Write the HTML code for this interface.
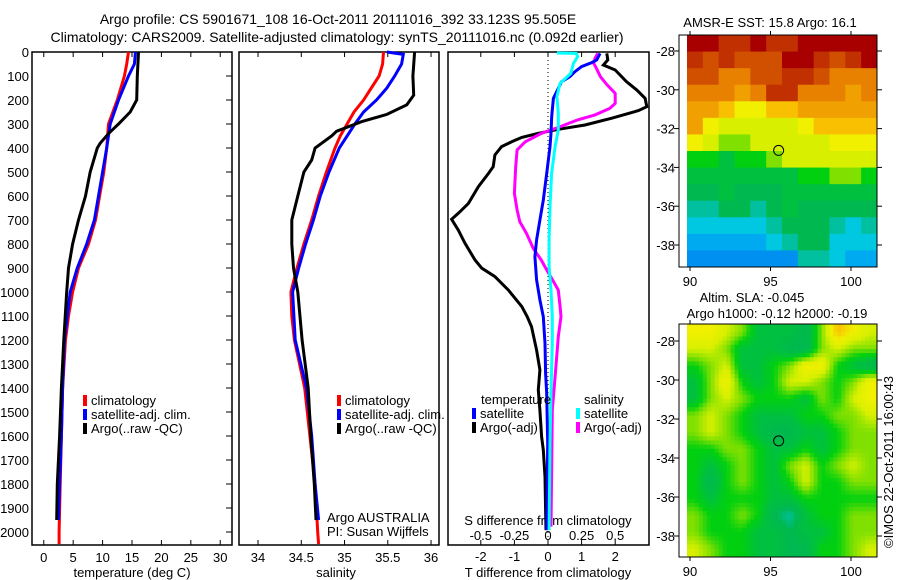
<!DOCTYPE html>
<html><head><meta charset="utf-8">
<style>
body{margin:0;background:#fff;}
svg{display:block;font-family:"Liberation Sans",sans-serif;}
text{fill:#000;font-size:13px;}
</style></head>
<body>
<svg id="chart" width="900" height="580" viewBox="0 0 900 580" xmlns="http://www.w3.org/2000/svg">
<rect width="900" height="580" fill="#fff"/>
<text x="338" y="24" text-anchor="middle" style="font-size:14px">Argo profile: CS 5901671_108 16-Oct-2011 20111016_392 33.123S 95.505E</text>
<text x="337" y="42" text-anchor="middle" style="font-size:14px">Climatology: CARS2009. Satellite-adjusted climatology: synTS_20111016.nc (0.092d earlier)</text>
<g id="g"></g>
</svg>
<script>
// ---- temperature profiles: [depth, value]
const tempClim=[[0,14.4],[50,14.1],[100,13.7],[200,12.5],[300,11],[400,10.7],[500,10.2],[600,9.5],[700,8.8],[800,7.6],[900,5.9],[1000,4.9],[1100,4.2],[1200,3.7],[1400,3.2],[1600,3.0],[1800,2.8],[2000,2.6],[2050,2.6]];
const tempSat=[[0,15.6],[50,15.4],[100,14.4],[200,12.7],[300,11.3],[400,10.7],[500,10.0],[600,9.3],[700,8.6],[800,7.3],[900,5.7],[1000,4.5],[1200,3.5],[1400,3.2],[1600,3.0],[1800,2.7],[1950,2.5]];
const tempArgo=[[0,16.1],[100,15.9],[200,15.8],[250,14.7],[300,12.7],[340,11],[380,9.6],[400,9.1],[500,7.9],[600,7.1],[700,5.9],[800,4.9],[900,4.2],[1000,3.9],[1200,3.4],[1400,3.0],[1600,2.7],[1800,2.3],[1950,2.2]];
// ---- salinity profiles
const salClim=[[0,35.45],[50,35.44],[100,35.40],[150,35.31],[200,35.22],[250,35.11],[300,35.03],[350,34.95],[400,34.89],[500,34.79],[600,34.70],[700,34.62],[800,34.53],[900,34.45],[1000,34.38],[1100,34.39],[1200,34.42],[1400,34.54],[1600,34.60],[1800,34.66],[2000,34.69],[2050,34.70]];
const salSat=[[0,35.49],[10,35.68],[50,35.66],[100,35.58],[150,35.49],[200,35.37],[250,35.22],[300,35.12],[350,35.03],[400,34.94],[500,34.82],[600,34.72],[700,34.64],[800,34.55],[900,34.47],[1000,34.40],[1200,34.43],[1400,34.56],[1600,34.62],[1800,34.66],[1950,34.70]];
const salArgo=[[0,35.81],[100,35.79],[180,35.80],[220,35.72],[260,35.49],[290,35.20],[330,34.91],[350,34.85],[400,34.66],[450,34.62],[500,34.53],[600,34.46],[700,34.39],[800,34.39],[900,34.41],[1000,34.46],[1200,34.51],[1400,34.58],[1600,34.61],[1800,34.65],[1950,34.67]];
// ---- differences from climatology
const dTsat=[[6,1.55],[33,1.45],[44,1.30],[61,1.0],[82,0.80],[103,0.65],[124,0.40],[151,0.31],[193,0.16],[269,0.11],[339,0.09],[394,0.06],[506,-0.04],[617,-0.14],[700,-0.24],[783,-0.34],[853,-0.39],[950,-0.34],[1033,-0.24],[1103,-0.14],[1214,-0.09],[1339,-0.07],[1422,-0.04],[1631,-0.01],[1992,-0.04]];
const dTargo=[[6,1.75],[33,1.78],[54,1.65],[75,2.0],[124,2.34],[158,2.64],[193,2.89],[228,2.94],[244,2.69],[276,1.90],[304,1.10],[322,0.31],[339,-0.29],[356,-0.78],[374,-1.08],[394,-1.38],[429,-1.58],[478,-1.63],[506,-1.77],[561,-2.07],[631,-2.37],[672,-2.67],[697,-2.87],[742,-2.67],[797,-2.47],[867,-2.17],[901,-1.97],[936,-1.58],[992,-1.18],[1061,-0.78],[1103,-0.62],[1144,-0.49],[1242,-0.34],[1325,-0.24],[1408,-0.29],[1492,-0.24],[1603,-0.19],[1658,-0.14],[1769,-0.09],[1908,-0.07],[1992,-0.06]];
const dSsat=[[4,0.066],[6,0.21],[19,0.22],[47,0.19],[89,0.17],[110,0.13],[130,0.09],[186,0.066],[255,0.077],[325,0.077],[394,0.053],[506,0.027],[644,0.015],[783,0.008],[894,0.008],[992,0.022],[1103,0.032],[1214,0.032],[1422,0.022],[1631,0.015],[1992,0.008]];
const dSargo=[[6,0.37],[26,0.35],[47,0.34],[68,0.36],[103,0.39],[137,0.44],[172,0.50],[214,0.50],[235,0.46],[262,0.35],[283,0.22],[314,0.077],[339,-0.05],[374,-0.17],[408,-0.23],[478,-0.24],[589,-0.25],[658,-0.23],[707,-0.21],[756,-0.16],[818,-0.11],[867,-0.05],[908,-0.01],[943,0.027],[992,0.077],[1061,0.09],[1103,0.097],[1186,0.077],[1353,0.053],[1492,0.032],[1769,0.027],[1978,0.022]];
// ---- tick labels
const depthTicks=[0,100,200,300,400,500,600,700,800,900,1000,1100,1200,1300,1400,1500,1600,1700,1800,1900,2000];
const tempTicks=[0,5,10,15,20,25,30];
const salTicks=["34","34.5","35","35.5","36"];
const dTTicks=["-2","-1","0","1","2"];
const dSTicks=["-0.5","-0.25","0","0.25","0.5"];
const latTicks=[-28,-30,-32,-34,-36,-38];
const lonTicks=[90,95,100];
// ---- map grids (colour index, rows north->south, cols west->east)
const sstGrid=[
[9.5,9.5,9,9,9.5,9,9,9.5,9.5,9.5,9.5,9.5],
[9,8.5,9,8.5,8.5,8.5,9.5,9.5,9,8.5,9,9.5],
[8.5,8.5,8,8,8.5,8.5,9,9,8.5,8,8,8],
[8,8,8,7.5,8,9,9,8,8,8,7.5,8],
[7.5,7.5,7,6.5,6.5,7,7,7.5,7.5,7.5,7.5,7.5],
[7.5,6.5,6,6,6,6,6,6.5,7,7,7,7],
[6.5,6,5.5,5.5,6,6,6,6,6,6.5,6.5,6.5],
[5,5,4.5,5,5,5.5,6,6,6,6,6,6],
[4.5,4.5,4.5,4.5,4.5,4.5,4.5,5,5,5.5,5.5,5],
[4,4,4.5,4,4,4,4.5,4.5,4.5,4.5,4.5,4.5],
[3.5,3.5,4,4,3.5,4,4.5,4,4,4,4,4],
[3,3,3,3,3,3.5,4,4,4,3.5,3,3.5],
[2.5,2.5,2.5,2.5,2.5,3,3.5,4,4,3,3,3],
[2,2,2,2,2,2,2,3.5,3.5,3,2.5,2.5]];
const slaGrid=[
[6.5,6.5,6,5.5,4.5,4.5,4.5,4,5.5,7,6.5,6],
[6,6,5.5,4.5,4.5,4.5,4,4,5.5,6,5.5,5.5],
[5,5.5,6,4.5,4.5,5,5.5,6.5,6.5,5,4.5,4],
[4.5,5.5,6.5,5,4.5,5,6,6,5.5,5,5.5,6.5],
[4.5,5.5,6,5.5,5,5,5,4.5,5.5,5,6,6.5],
[5.5,6,5.5,5,4.5,4.5,4.5,5,5,5.5,5.5,6],
[5.5,6,5.5,5,4.5,4,4,4.5,4.5,5,5.5,5.5],
[5,5,5.5,5.5,5,4.5,4.5,5,4.5,5,5.5,5.5],
[5,4.5,5,5.5,5,4.5,5.5,6,5,5.5,6,5.5],
[5,4,5,5.5,5,4.5,5,6,5,5,5.5,5.5],
[5,4.5,5,5,5,4.5,4.5,5,5,5,5,5],
[5.5,5,5,5.5,5,4,3.5,4.5,5,5,5.5,5.5],
[5.5,5,5,5,4.5,4.5,4,4.5,4.5,5,5.5,5.5],
[6,5.5,5,5,4.5,4.5,4,4,5,5,5.5,6]];

const NS='http://www.w3.org/2000/svg';
const G=document.getElementById('g');
function mk(tag,attrs,parent){const e=document.createElementNS(NS,tag);for(const k in attrs)e.setAttribute(k,attrs[k]);(parent||G).appendChild(e);return e;}
function txt(x,y,s,anchor,parent){const t=mk('text',{x:x,y:y,'text-anchor':anchor||'start'},parent);t.textContent=s;return t;}
const yD=d=>52+d*0.24;
const PB=545;
function panel(x0,x1,name){
  const r=mk('rect',{x:x0,y:52,width:x1-x0,height:PB-52,fill:'none',stroke:'#000','stroke-width':1.5});
  
  
}
function line(data,sx,color,name){
  const p=mk('polyline',{points:data.map(d=>sx(d[1]).toFixed(1)+','+yD(d[0]).toFixed(1)).join(' '),fill:'none',stroke:color,'stroke-width':3});
  
  
}
// Panel 1
const xT=v=>32+(v+2)*200/34;
panel(32,232,'temperature-panel');
depthTicks.forEach(d=>{
  const t=txt(29,yD(d)+5,String(d),'end');
  
  
  mk('line',{x1:226,x2:232,y1:yD(d),y2:yD(d),stroke:'#000'});
});
tempTicks.forEach(v=>{
  mk('line',{x1:xT(v),x2:xT(v),y1:52,y2:57,stroke:'#000'});
  mk('line',{x1:xT(v),x2:xT(v),y1:PB,y2:PB-5,stroke:'#000'});
  const t=txt(xT(v),562,String(v),'middle');
  
  
});
line(tempClim,xT,'#f00','temp-climatology-line');
line(tempSat,xT,'#00f','temp-satellite-line');
line(tempArgo,xT,'#000','temp-argo-line');
let t=txt(132,577,'temperature (deg C)','middle');


// Panel 2
const xS=v=>239+(v-33.78)*86.5;
panel(239,439,'salinity-panel');
salTicks.forEach(s=>{
  const v=parseFloat(s);
  mk('line',{x1:xS(v),x2:xS(v),y1:52,y2:57,stroke:'#000'});
  mk('line',{x1:xS(v),x2:xS(v),y1:PB,y2:PB-5,stroke:'#000'});
  const t=txt(xS(v),562,s,'middle');
  
  
});
line(salClim,xS,'#f00','sal-climatology-line');
line(salSat,xS,'#00f','sal-satellite-line');
line(salArgo,xS,'#000','sal-argo-line');
t=txt(336,577,'salinity','middle');


t=txt(327,522,'Argo AUSTRALIA');


t=txt(327,536,'PI: Susan Wijffels');


function legend(x,y,items,name){
  items.forEach((it,i)=>{
    const r=mk('rect',{x:x,y:y+i*14-10,width:4,height:11,fill:it[1]});
    
    
    const tt=txt(x+8,y+i*14,it[0]);
    
    
  });
}
legend(83,405,[['climatology','#f00'],['satellite-adj. clim.','#00f'],['Argo(..raw -QC)','#000']],'temp-legend');
legend(337,405,[['climatology','#f00'],['satellite-adj. clim.','#00f'],['Argo(..raw -QC)','#000']],'sal-legend');
// Panel 3
const xDT=v=>548+v*33.6;
const xDS=v=>548+v*4*33.6;
panel(448,649,'difference-panel');
mk('line',{x1:548,x2:548,y1:52,y2:PB,stroke:'#000','stroke-dasharray':'1,3'});
dTTicks.forEach(s=>{
  const v=parseFloat(s);
  mk('line',{x1:xDT(v),x2:xDT(v),y1:52,y2:57,stroke:'#000'});
  mk('line',{x1:xDT(v),x2:xDT(v),y1:PB,y2:PB-5,stroke:'#000'});
  const t=txt(xDT(v),561,s,'middle');
  
  
});
dSTicks.forEach(s=>{
  const v=parseFloat(s);
  const t=txt(xDS(v),540,s,'middle');
  
  
});
t=txt(548,525,'S difference from climatology','middle');


t=txt(548,577,'T difference from climatology','middle');


line(dTargo,xDT,'#000','t-diff-argo-line');
line(dSargo,xDS,'#f0f','s-diff-argo-line');
line(dTsat,xDT,'#00f','t-diff-satellite-line');
line(dSsat,xDS,'#0ff','s-diff-satellite-line');
t=txt(481,404,'temperature');


t=txt(584,404,'salinity');


legend(472,418,[['satellite','#00f'],['Argo(-adj)','#000']],'tdiff-legend');
legend(576,418,[['satellite','#0ff'],['Argo(-adj)','#f0f']],'sdiff-legend');
// ---- maps
const stops=[[2,[0,144,240]],[2.5,[0,170,240]],[3,[0,200,224]],[3.5,[0,192,160]],[4,[0,184,80]],[4.5,[0,192,64]],[5,[0,208,16]],[5.5,[128,224,0]],[6,[216,240,0]],[6.5,[240,240,0]],[7,[248,192,0]],[7.5,[240,160,0]],[8,[232,128,0]],[8.5,[208,80,0]],[9,[192,48,0]],[9.5,[168,0,0]],[10,[160,0,0]]];
function col(v){
  for(let i=0;i<stops.length-1;i++){
    if(v<=stops[i+1][0]){const a=stops[i],b=stops[i+1];const f=Math.max(0,(v-a[0])/(b[0]-a[0]));
      return 'rgb('+a[1].map((c,j)=>Math.round(c+(b[1][j]-c)*f)).join(',')+')';}
  }
  return 'rgb(160,0,0)';
}
function sample(grid,r,c){
  const nr=grid.length,nc=grid[0].length;
  r=Math.min(Math.max(r,0),nr-1);c=Math.min(Math.max(c,0),nc-1);
  const r0=Math.floor(r),c0=Math.floor(c),r1=Math.min(r0+1,nr-1),c1=Math.min(c0+1,nc-1);
  const fr=r-r0,fc=c-c0;
  return grid[r0][c0]*(1-fr)*(1-fc)+grid[r0][c1]*(1-fr)*fc+grid[r1][c0]*fr*(1-fc)+grid[r1][c1]*fr*fc;
}
const lonX=l=>690+(l-90)*16.1;
function map(grid,top,bottom,lat0y,lat38y,name,sub){
  const left=687,right=877,nr=grid.length,nc=grid[0].length;
  const NR=nr*sub,NC=nc*sub;
  const cw=(right-left)/NC,ch=(bottom-top)/NR;
  const gm=mk('g',{});
  
  
  for(let i=0;i<NR;i++)for(let j=0;j<NC;j++){
    const v=sub===1?grid[i][j]:sample(grid,(i+0.5)/sub-0.5,(j+0.5)/sub-0.5);
    const c=mk('rect',{x:(left+j*cw).toFixed(2),y:(top+i*ch).toFixed(2),width:(cw+0.5).toFixed(2),height:(ch+0.5).toFixed(2),fill:col(v)},gm);
    
    
  }
  mk('rect',{x:679,y:top,width:198,height:bottom-top,fill:'none',stroke:'#000','stroke-width':1});
  const latY=l=>lat0y+(-28-l)*(lat38y-lat0y)/10;
  latTicks.forEach(l=>{
    const y=latY(l);
    mk('line',{x1:674,x2:679,y1:y,y2:y,stroke:'#000'});
    mk('line',{x1:877,x2:882,y1:y,y2:y,stroke:'#000'});
    const tt=txt(675,y+5,String(l),'end');
    
    
  });
  lonTicks.forEach(l=>{
    mk('line',{x1:lonX(l),x2:lonX(l),y1:top-4,y2:top,stroke:'#000'});
    mk('line',{x1:lonX(l),x2:lonX(l),y1:bottom,y2:bottom+4,stroke:'#000'});
    const tt=txt(lonX(l),bottom+19,String(l),'middle');
    
    
  });
  const c=mk('circle',{cx:lonX(95.505),cy:latY(-33.123),r:5,fill:'none',stroke:'#000','stroke-width':1});
  
  
}
map(sstGrid,35,267,51,245,'sst-map',1);
map(slaGrid,324,557,341,536,'sla-map',4);
t=txt(770,27,'AMSR-E SST: 15.8 Argo: 16.1','middle');


t=txt(752,302,'Altim. SLA: -0.045','middle');


t=txt(777,318,'Argo h1000: -0.12 h2000: -0.19','middle');


t=txt(0,0,'©IMOS 22-Oct-2011 16:00:43','middle');
t.setAttribute('transform','translate(893,462) rotate(-90)');


</script>
</body></html>
